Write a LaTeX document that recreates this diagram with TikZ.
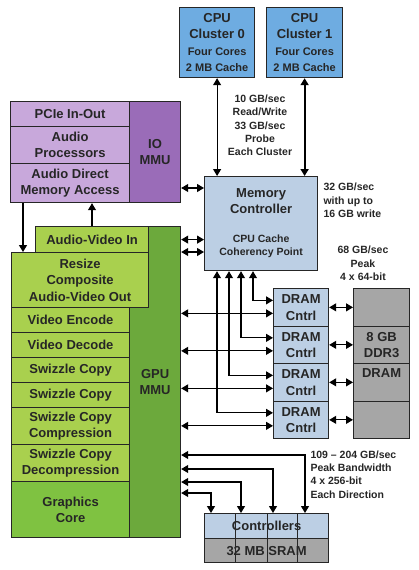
\documentclass[tikz,border=0pt]{standalone}
\usepackage{fontspec}
\setmainfont{Liberation Sans}
\usetikzlibrary{arrows.meta, positioning, calc}

\definecolor{cpublue}{HTML}{6EACE1}
\definecolor{mcblue}{HTML}{BCCFE4}
\definecolor{lpurple}{HTML}{C8A8DB}
\definecolor{iopurple}{HTML}{9A6CB8}
\definecolor{lgreen}{HTML}{A9D04E}
\definecolor{ggreen}{HTML}{6CA93C}
\definecolor{cgreen}{HTML}{7FC241}
\definecolor{dgray}{HTML}{A6A6A6}

\begin{document}
\begin{tikzpicture}[x=1pt, y=-1pt,
      blk/.style={draw=black!85, line width=1.2pt, anchor=north west, inner sep=1pt,
                  align=center, text=black!85, font=\bfseries\fontsize{13}{16.5}\selectfont},
      lbl/.style={align=center, text=black!85, font=\bfseries\fontsize{13}{16.5}\selectfont},
      note/.style={align=center, text=black!85, font=\bfseries\fontsize{10.5}{13.3}\selectfont},
      dbl/.style={{Triangle[length=7pt,width=8pt]}-{Triangle[length=7pt,width=8pt]}, line width=1.1pt},
      one/.style={-{Triangle[length=7pt,width=8pt]}, line width=1.1pt}]

    \useasboundingbox (0,0) rectangle (419,570);

    \def\sm{\fontsize{11}{16}\selectfont}

    % ===== CPU clusters =====
    \node[blk, fill=cpublue, minimum width=75pt, minimum height=70pt] (cpu0) at (179,7)
        {CPU\\Cluster 0\\{\sm Four Cores}\\{\sm 2 MB Cache}};
    \node[blk, fill=cpublue, minimum width=76pt, minimum height=70pt] (cpu1) at (266,7)
        {CPU\\Cluster 1\\{\sm Four Cores}\\{\sm 2 MB Cache}};

    % ===== IO side =====
    \node[blk, fill=lpurple, minimum width=119pt, minimum height=25pt] (pcie) at (10,101) {PCIe In-Out};
    \node[blk, fill=lpurple, minimum width=119pt, minimum height=37pt] (audproc) at (10,126) {Audio\\Processors};
    \node[blk, fill=lpurple, minimum width=119pt, minimum height=39pt] (auddma) at (10,163) {Audio Direct\\Memory Access};
    \node[blk, fill=iopurple, minimum width=51pt, minimum height=101pt] (iommu) at (129,101) {IO\\MMU};

    % ===== Memory controller =====
    \node[blk, fill=mcblue, minimum width=113pt, minimum height=94pt] (mc) at (204,176) {};
    \node[lbl] (mcname) at ($(mc.north)+(0,25)$) {Memory\\Controller};
    \node[note] (mccoh) at ($(mc.north)+(0,70)$) {CPU Cache\\Coherency Point};

    % ===== GPU side =====
    \node[blk, fill=ggreen, minimum width=51pt, minimum height=311pt] (gpummu) at (129,226) {GPU\\MMU};
    \node[blk, fill=lgreen, minimum width=113pt, minimum height=26pt] (avin) at (35,226) {Audio-Video In};
    \node[blk, fill=lgreen, minimum width=137pt, minimum height=55pt] (resize) at (11,252)
        {Resize\\Composite\\Audio-Video Out};
    \foreach \nm/\y/\h/\txt in {venc/307/25/{Video Encode}, vdec/332/25/{Video Decode},
        swza/357/25/{Swizzle Copy}, swzb/382/25/{Swizzle Copy},
        swzc/407/37/{Swizzle Copy\\Compression}, swzd/444/37/{Swizzle Copy\\Decompression}} {
        \node[blk, fill=lgreen, minimum width=118pt, minimum height=\h pt] (\nm) at (11,\y) {\txt};
    }
    \node[blk, fill=cgreen, minimum width=118pt, minimum height=56pt] (gcore) at (11,481) {Graphics\\Core};

    % ===== DRAM =====
    \foreach \i/\y/\txt in {1/288/{}, 2/325.5/{8 GB\\DDR3}, 3/363/{}, 4/400.5/{}} {
        \node[blk, fill=mcblue, minimum width=55pt, minimum height=37.5pt] (dc\i) at (273,\y) {DRAM\\Cntrl};
        \node[blk, fill=dgray, minimum width=56pt, minimum height=37.5pt] (dr\i) at (353,\y) {\txt};
    }
    \node[lbl] (drlbl) at ($(dr3.north)+(0,10)$) {DRAM};

    % ===== SRAM =====
    \node[blk, fill=mcblue, minimum width=124pt, minimum height=25pt] (ctrl) at (204,513) {Controllers};
    \node[blk, fill=dgray, minimum width=124pt, minimum height=24pt] (sram) at (204,538) {32 MB SRAM};
    \foreach \ox in {31, 63, 93} {
        \draw[black!85, line width=1pt] ([xshift=\ox pt]ctrl.north west) -- ([xshift=\ox pt]sram.south west);
    }

    % ===== Connectors =====
    \draw[dbl] (cpu0.south) -- (cpu0.south |- mc.north);
    \draw[dbl, line width=1.8pt] (cpu1.south) -- (cpu1.south |- mc.north);
    \draw[dbl] ([yshift=-12pt]mc.north west) coordinate (iomc) -- (iomc -| iommu.east);
    \draw[one] ([xshift=13pt]auddma.south west) coordinate (adn) -- (adn |- resize.north);
    \draw[one] ([xshift=57pt]avin.north west) coordinate (aup) -- (aup |- auddma.south);
    \draw[dbl] (mc.west |- avin.east) -- (gpummu.east |- avin.east);
    \draw[dbl] (mc.west |- resize.north) -- (gpummu.east |- resize.north);

    \foreach \i/\ox in {1/49, 2/37, 3/25, 4/13} {
        \draw[dbl] ([yshift=7pt]dc\i.west) coordinate (el) -| ([xshift=\ox pt]mc.south west);
        \draw[dbl] ([yshift=-6pt]dc\i.west) coordinate (gl) -- (gl -| gpummu.east);
        \draw[dbl] (dc\i.east) -- (dc\i.east -| dr\i.west);
    }

    \foreach \ox/\oy in {101/58, 69/44, 37/31, 7/20} {
        \draw[dbl] ([xshift=\ox pt]ctrl.north west) -- ++(0,-\oy) coordinate (sl) -- (sl -| gpummu.east);
    }

    % ===== Bandwidth notes =====
    \node[note] (bwcpu) at (260,125.5) {10 GB/sec\\Read/Write\\33 GB/sec\\Probe\\Each Cluster};
    \node[note, align=left, anchor=west] (bwmc) at (320,200.5) {32 GB/sec\\with up to\\16 GB write};
    \node[note] (bwdram) at (363,263.5) {68 GB/sec\\Peak\\4 x 64-bit};
    \node[note, align=left, anchor=west] (bwsram) at (307,474.5)
        {109 -- 204 GB/sec\\Peak Bandwidth\\4 x 256-bit\\Each Direction};

\end{tikzpicture}
\end{document}
